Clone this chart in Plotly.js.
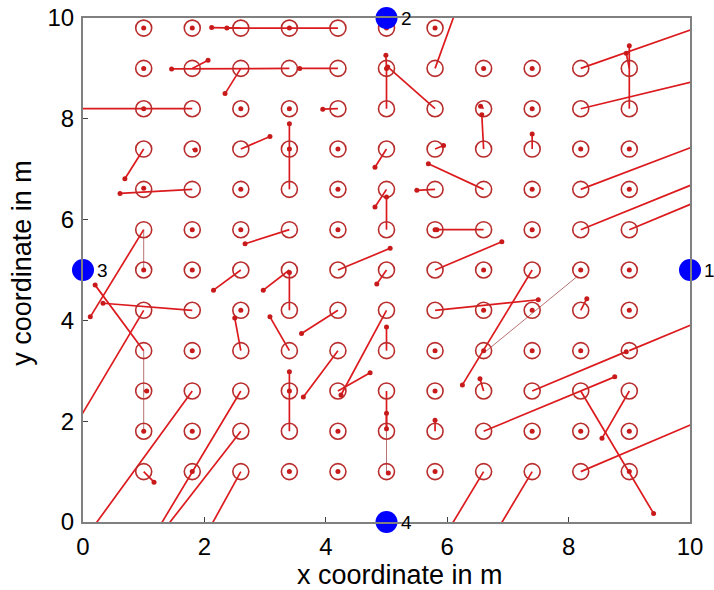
<!DOCTYPE html>
<html>
<head>
<meta charset="utf-8">
<script src="https://cdn.plot.ly/plotly-3.0.1.min.js"></script>
<style>
  html, body { margin: 0; padding: 0; background: #ffffff; }
  #chart { width: 714px; height: 590px; }
</style>
</head>
<body>
<div id="chart"></div>
<script>
// True node positions of the test grid (m)
const colX = [1.0, 1.8, 2.6, 3.4, 4.2, 5.0, 5.8, 6.6, 7.4, 8.2, 9.0];
const rowY = [1.0, 1.8, 2.6, 3.4, 4.2, 5.0, 5.8, 6.6, 7.4, 8.2, 9.0];
const topColX = [1.0, 1.8, 2.6, 3.4, 4.2, 5.0, 5.8];
const topRowY = 9.8;

// Estimated positions [x, y] for each node, one array per grid row
const estRow10 = [[1.17, 0.79], [1.8, 1.0], [2.12, -0.05], [3.4, 1.0], [4.2, 1.0], [5.03, 0.97], [5.8, 1.0], [6.05, -0.1], [6.88, -0.05], [10.5, 2.18], [9.0, 1.0]];
const estRow18 = [[1.0, 1.8], [1.8, 1.8], [1.37, -0.1], [3.4, 2.98], [4.2, 1.8], [5.0, 2.16], [5.8, 2.02], [8.76, 2.88], [7.4, 1.8], [8.2, 1.8], [9.0, 1.8]];
const estRow26 = [[1.05, 2.6], [0.2, -0.05], [1.28, -0.05], [3.4, 2.6], [4.73, 2.96], [5.0, 1.85], [5.8, 2.6], [6.54, 2.84], [8.95, 3.38], [9.4, 0.17], [8.55, 1.66]];
const estRow34 = [[0.2, 4.7], [1.8, 3.4], [2.5, 4.05], [3.08, 4.07], [3.63, 2.48], [5.0, 3.87], [5.8, 3.4], [6.6, 3.4], [7.4, 3.4], [8.2, 3.4], [10.4, 4.1]];
const estRow42 = [[-0.05, 2.07], [0.33, 4.34], [2.6, 4.2], [3.4, 4.95], [3.6, 3.74], [4.25, 2.52], [7.5, 4.41], [6.6, 4.2], [7.4, 4.2], [8.3, 4.43], [9.0, 4.2]];
const estRow50 = [[1.0, 5.0], [1.8, 5.0], [2.15, 4.6], [2.97, 4.6], [5.06, 5.43], [4.84, 4.72], [6.9, 5.56], [6.6, 5.0], [6.25, 2.72], [8.2, 5.0], [9.0, 5.0]];
const estRow58 = [[0.12, 4.07], [1.8, 5.8], [2.6, 5.8], [2.67, 5.52], [4.2, 5.8], [5.0, 6.45], [5.8, 5.8], [5.83, 5.8], [7.4, 5.8], [10.5, 6.92], [10.3, 6.45]];
const estRow66 = [[1.0, 6.62], [0.61, 6.52], [2.6, 6.6], [3.4, 7.9], [4.2, 6.6], [4.81, 6.25], [5.5, 6.58], [5.69, 7.11], [7.4, 6.6], [10.5, 7.65], [9.0, 6.6]];
const estRow74 = [[0.69, 6.81], [1.85, 7.38], [3.08, 7.65], [3.4, 7.4], [4.2, 7.4], [4.81, 7.04], [5.94, 7.47], [6.57, 8.08], [7.4, 7.7], [8.2, 7.4], [9.0, 7.4]];
const estRow82 = [[1.0, 8.2], [-0.8, 8.2], [2.6, 8.2], [3.4, 8.2], [3.95, 8.19], [5.0, 9.0], [5.02, 9.03], [6.55, 8.25], [7.4, 8.2], [10.5, 8.87], [9.0, 9.45]];
const estRow90 = [[1.0, 9.0], [2.06, 9.16], [2.34, 8.5], [1.46, 8.99], [3.57, 9.0], [4.99, 9.26], [6.13, 10.1], [6.6, 9.0], [7.4, 9.0], [10.5, 9.97], [8.95, 9.3]];
const estRow98 = [[1.0, 9.8], [1.8, 9.8], [2.12, 9.81], [3.4, 9.8], [2.37, 9.8], [5.0, 9.8], [5.8, 9.8]];

// Faint links between neighbouring nodes
const linkFromX = [1.0, 5.0, 1.0, 6.62];
const linkFromY = [1.8, 1.0, 5.0, 3.37];
const linkToX = [1.0, 5.0, 1.0, 8.13];
const linkToY = [3.4, 1.8, 5.8, 4.86];

// Anchor nodes on the room walls
const anchorX = [10, 5, 0, 5];
const anchorY = [5, 10, 5, 0];
const anchorLabel = ['1', '2', '3', '4'];

// Axis ticks and titles
const tickValues = [0, 2, 4, 6, 8, 10];
const xTitle = 'x coordinate in m';
const yTitle = 'y coordinate in m';

// Assemble node / estimate pairs
const estRows = [estRow10, estRow18, estRow26, estRow34, estRow42, estRow50,
                 estRow58, estRow66, estRow74, estRow82, estRow90];
const nodeX = [], nodeY = [], estX = [], estY = [];
rowY.forEach((y, r) => {
  colX.forEach((x, c) => {
    nodeX.push(x); nodeY.push(y);
    estX.push(estRows[r][c][0]); estY.push(estRows[r][c][1]);
  });
});
topColX.forEach((x, c) => {
  nodeX.push(x); nodeY.push(topRowY);
  estX.push(estRow98[c][0]); estY.push(estRow98[c][1]);
});

const errX = [], errY = [];
nodeX.forEach((x, i) => {
  errX.push(x, estX[i], null);
  errY.push(nodeY[i], estY[i], null);
});
const lnkX = [], lnkY = [];
linkFromX.forEach((x, i) => {
  lnkX.push(x, linkToX[i], null);
  lnkY.push(linkFromY[i], linkToY[i], null);
});

const FONT = 'Liberation Sans, Arial, Helvetica, sans-serif';

const traces = [
  { // faint links
    x: lnkX, y: lnkY, mode: 'lines', type: 'scatter',
    line: { color: '#b87272', width: 1 }, hoverinfo: 'skip'
  },
  { // node -> estimate error lines
    x: errX, y: errY, mode: 'lines', type: 'scatter',
    line: { color: '#dc1a1e', width: 1.7 }, hoverinfo: 'skip'
  },
  { // true node positions
    x: nodeX, y: nodeY, mode: 'markers', type: 'scatter',
    marker: { symbol: 'circle-open', size: 16, color: '#b92c2c', line: { width: 1.6, color: '#b92c2c' } }
  },
  { // estimated positions
    x: estX, y: estY, mode: 'markers', type: 'scatter',
    marker: { symbol: 'circle', size: 5, color: '#c81a1a' }
  },
  { // anchors
    x: anchorX, y: anchorY, mode: 'markers', type: 'scatter',
    marker: { symbol: 'circle', size: 22, color: '#0000ff' },
    cliponaxis: false
  }
];

// Anchor numbers sit just to the right of each anchor
const anchorNotes = anchorLabel.map((t, i) => ({
  text: t, x: anchorX[i], y: anchorY[i], xref: 'x', yref: 'y',
  xanchor: 'left', yanchor: 'middle', xshift: 12, showarrow: false,
  font: { family: FONT, size: 19, color: '#000000' }
}));

const axisCommon = {
  range: [0, 10], tickvals: tickValues,
  showgrid: false, zeroline: false,
  showline: true, mirror: true, linecolor: '#808080', linewidth: 2,
  ticks: 'inside', ticklen: 5, tickcolor: '#404040', tickwidth: 1,
  tickfont: { family: FONT, size: 24, color: '#000000' },
  automargin: false, fixedrange: true
};

const layout = {
  width: 714, height: 590,
  margin: { l: 83, r: 24, t: 18, b: 68 },
  paper_bgcolor: '#ffffff', plot_bgcolor: '#ffffff',
  showlegend: false,
  xaxis: Object.assign({}, axisCommon, { ticklabelstandoff: 2 }),
  yaxis: Object.assign({}, axisCommon, { ticklabelstandoff: 2 }),
  annotations: anchorNotes.concat([
    { text: xTitle, xref: 'paper', yref: 'paper', x: 0.522, y: -0.105,
      xanchor: 'center', yanchor: 'middle', showarrow: false,
      font: { family: FONT, size: 27, color: '#000000' } },
    { text: yTitle, xref: 'paper', yref: 'paper', x: -0.1, y: 0.515,
      xanchor: 'center', yanchor: 'middle', showarrow: false, textangle: -90,
      font: { family: FONT, size: 27, color: '#000000' } }
  ])
};

Plotly.newPlot('chart', traces, layout, { staticPlot: true, displayModeBar: false });
</script>
</body>
</html>
